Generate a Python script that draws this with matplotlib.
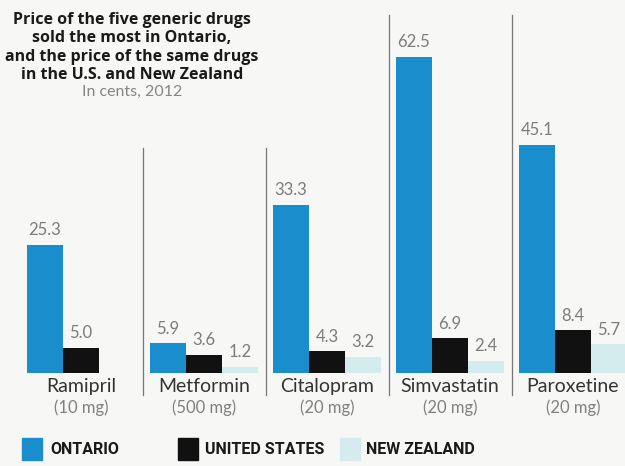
import numpy as np
import matplotlib.pyplot as plt
from matplotlib.patches import Rectangle

# data, in cents (2012)
drugs = ['Ramipril', 'Metformin', 'Citalopram', 'Simvastatin', 'Paroxetine']
doses = ['(10 mg)', '(500 mg)', '(20 mg)', '(20 mg)', '(20 mg)']
ontario = [25.3, 5.9, 33.3, 62.5, 45.1]
united_states = [5.0, 3.6, 4.3, 6.9, 8.4]
new_zealand = [np.nan, 1.2, 3.2, 2.4, 5.7]

series_names = ['ONTARIO', 'UNITED STATES', 'NEW ZEALAND']
colors = ['#1a8dcd', '#111111', '#d5ecee']

bg = '#f7f7f6'
W, H = 625, 466
fig = plt.figure(figsize=(W / 100, H / 100), dpi=100, facecolor=bg)

# axes fills the width, baseline 93 px above the bottom
ax = fig.add_axes([0, 93 / H, 1, 373 / H])
ax.set_facecolor(bg)
px_per_unit = 5.06
ax.set_ylim(0, 373 / px_per_unit)
ax.set_xlim(-27 / 123, (W - 27) / 123)
for s in ax.spines.values():
    s.set_visible(False)
ax.set_xticks([])
ax.set_yticks([])

x = np.arange(len(drugs))
bw = 36 / 123
for k, (vals, c) in enumerate(zip([ontario, united_states, new_zealand], colors)):
    xs = x + k * bw
    ax.bar(xs, vals, width=bw, align='edge', color=c, zorder=2)
    for xi, v in zip(xs, vals):
        if np.isnan(v):
            continue
        ax.text(xi + bw / 2, v + 1.3, f'{v:.1f}', ha='center', va='bottom',
                fontsize=12, color='#7c7c7c', family='Lato')

# separators between groups
sep_tops = [44.5, 44.5, 70.8, 70.8]
for i, top in zip(x[1:], sep_tops):
    ax.plot([i - 0.057, i - 0.057], [-4.4, top], color='#777777', lw=0.9,
            clip_on=False, zorder=1)

# drug names and doses
for i, (d, dose) in enumerate(zip(drugs, doses)):
    cx = i + 1.5 * bw
    ax.text(cx, -2.6, d, ha='center', va='center', fontsize=14,
            color='#333333', family='Lato', clip_on=False)
    ax.text(cx, -6.9, dose, ha='center', va='center', fontsize=12,
            color='#808080', family='Lato', clip_on=False)

# title
title = ('Price of the five generic drugs\nsold the most in Ontario,\n'
         'and the price of the same drugs\nin the U.S. and New Zealand')
fig.text(132 / W, 1 - 12 / H, title, ha='center', va='top', fontsize=11.5,
         weight='bold', family='Open Sans', color='#1a1a1a', linespacing=1.2)
fig.text(132 / W, 1 - 92 / H, 'In cents, 2012', ha='center', va='center',
         fontsize=11.5, family='Lato', color='#858585')

# legend
leg_x = [22, 178, 340]
text_x = [50, 205, 366]
for lx, tx, name, c in zip(leg_x, text_x, series_names, colors):
    fig.patches.append(Rectangle((lx / W, 1 - 460 / H), 20 / W, 22 / H,
                                 transform=fig.transFigure, color=c))
    fig.text(tx / W, 1 - 449 / H, name, ha='left', va='center', fontsize=11.5,
             weight='bold', family='Roboto', color='#1a1a1a')

fig.savefig('out.png', dpi=100, facecolor=bg)
